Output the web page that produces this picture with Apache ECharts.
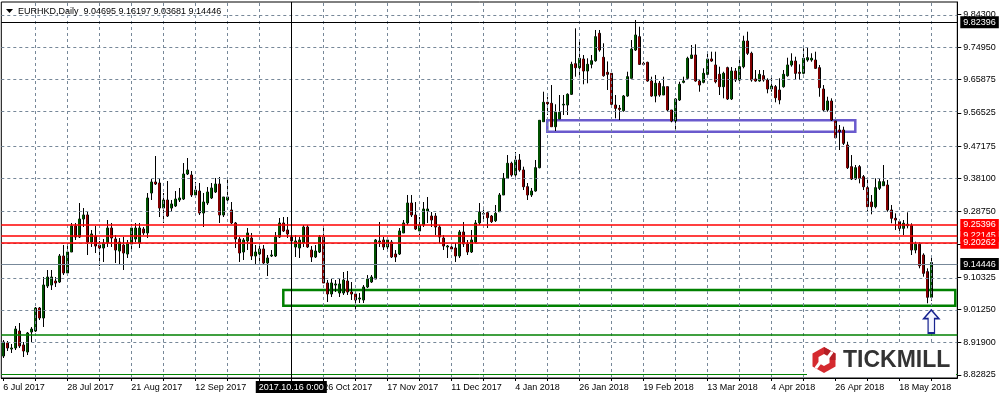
<!DOCTYPE html>
<html><head><meta charset="utf-8">
<script src="https://cdn.jsdelivr.net/npm/echarts@6/dist/echarts.min.js"></script>
<style>html,body{margin:0;padding:0;background:#fff}#c{width:1000px;height:400px}</style>
</head><body><div id="c"></div>
<script>
// ---- data (EURHKD daily) ----
const openP = [8.8816,8.9182,8.9013,8.9041,8.9519,8.9126,8.8929,8.9491,8.9519,9.0166,
8.9885,9.0784,9.0812,9.0925,9.0897,9.1628,9.1150,9.1740,9.2471,9.2162,
9.2668,9.2781,9.2021,9.2190,9.1937,9.1853,9.1993,9.2415,9.2106,9.1768,
9.1937,9.1684,9.1965,9.2106,9.1993,9.2387,9.2275,9.3399,9.3708,9.3680,
9.2977,9.3202,9.2977,9.3034,9.3202,9.3230,9.3933,9.3905,9.3343,9.3455,
9.2837,9.3118,9.3259,9.3427,9.3652,9.2781,9.3202,9.2921,9.2556,9.2106,
9.1740,9.2050,9.2134,9.1628,9.1684,9.1825,9.1431,9.1628,9.1628,9.2162,
9.2556,9.2359,9.2162,9.1881,9.1853,9.1993,9.2443,9.1796,9.1600,9.1740,
9.2162,9.0869,9.0560,9.0812,9.0588,9.0588,9.0925,9.0616,9.0560,9.0419,
9.0391,9.0756,9.0897,9.0981,9.2021,9.2078,9.1881,9.2021,9.1684,9.1684,
9.2275,9.2556,9.3118,9.2781,9.2331,9.2499,9.2893,9.2752,9.2752,9.2443,
9.2134,9.1881,9.1881,9.1853,9.1628,9.2303,9.1965,9.1740,9.2021,9.2556,
9.2809,9.2845,9.2752,9.2620,9.2873,9.3343,9.3812,9.4234,9.3905,9.4327,
9.4046,9.3576,9.3343,9.3455,9.4110,9.5404,9.5949,9.5921,9.5263,9.5479,
9.5873,9.5873,9.6174,9.7034,9.6922,9.7166,9.6829,9.7017,9.7118,9.7889,
9.7214,9.6792,9.6764,9.5873,9.5780,9.5713,9.6126,9.6624,9.7419,9.7793,
9.7045,9.7073,9.6548,9.6126,9.6483,9.6154,9.6388,9.5732,9.5423,9.6014,
9.6511,9.6624,9.7186,9.7279,9.6548,9.6511,9.6736,9.7166,9.6998,9.6736,
9.6388,9.6922,9.6042,9.6829,9.6576,9.6950,9.7672,9.7327,9.6604,9.6548,
9.6697,9.6576,9.6323,9.6388,9.6295,9.6388,9.6697,9.6998,9.7110,9.6792,
9.6764,9.7138,9.7138,9.7138,9.6922,9.6323,9.5732,9.5986,9.5423,9.5170,
9.5170,9.4748,9.4139,9.3792,9.4139,9.3857,9.3548,9.3146,9.3014,9.3531,
9.3604,9.3624,9.2921,9.2688,9.2592,9.2406,9.2480,9.2480,9.1796,9.1956,
9.1656,9.1187,9.04695];
const highP = [8.9266,8.9238,8.9154,8.9660,8.9744,8.9210,8.9491,8.9632,9.0194,9.0194,
9.1037,9.1234,9.1234,9.1037,9.1684,9.1937,9.1965,9.2556,9.2556,9.3118,
9.2977,9.2865,9.2359,9.2471,9.2050,9.2106,9.2640,9.2556,9.2218,9.2134,
9.2162,9.2078,9.2527,9.2556,9.2556,9.2443,9.3399,9.3792,9.4439,9.3792,
9.3399,9.3736,9.3202,9.3455,9.3540,9.4242,9.4383,9.4017,9.3708,9.3680,
9.3399,9.3568,9.3680,9.3821,9.3849,9.3287,9.3849,9.3146,9.2584,9.2162,
9.2134,9.2415,9.2275,9.1937,9.1937,9.1937,9.1656,9.1796,9.2303,9.2696,
9.2724,9.2724,9.2275,9.2218,9.2162,9.2499,9.2499,9.1909,9.1937,9.2218,
9.2443,9.0953,9.0981,9.0953,9.0981,9.1178,9.1206,9.0897,9.0616,9.0588,
9.0812,9.1093,9.1093,9.2106,9.2584,9.2162,9.2134,9.2078,9.1796,9.2415,
9.2640,9.3343,9.3343,9.3146,9.2724,9.3146,9.3287,9.2865,9.2837,9.2499,
9.2218,9.1937,9.1909,9.1993,9.2359,9.2584,9.2078,9.2359,9.2640,9.3118,
9.3014,9.2873,9.2781,9.3062,9.3399,9.3961,9.4467,9.4279,9.4552,9.4495,
9.4139,9.3680,9.3540,9.4327,9.5443,9.6247,9.6106,9.6435,9.5893,9.6154,
9.6154,9.6202,9.7090,9.8029,9.7700,9.7279,9.7186,9.7279,9.7982,9.7982,
9.7608,9.7098,9.6764,9.6154,9.5873,9.6154,9.6809,9.7700,9.8263,9.8074,
9.7090,9.7090,9.6669,9.6717,9.6548,9.6669,9.6388,9.5732,9.6061,9.6528,
9.6669,9.7231,9.7560,9.7580,9.6576,9.6905,9.7372,9.7372,9.7372,9.6950,
9.6809,9.6950,9.6941,9.6913,9.7231,9.7821,9.7934,9.7372,9.6857,9.6857,
9.6857,9.6624,9.6717,9.6435,9.6624,9.6857,9.7203,9.7327,9.7231,9.7017,
9.7467,9.7484,9.7327,9.7372,9.6998,9.6435,9.6106,9.6061,9.5423,9.5311,
9.5263,9.4841,9.4467,9.4186,9.4186,9.3905,9.3812,9.3343,9.3812,9.3812,
9.4186,9.3764,9.3062,9.2828,9.2640,9.2640,9.2856,9.2547,9.2030,9.2013,
9.1704,9.1282,9.16197];
const lowP = [8.8760,8.8957,8.8901,8.8985,8.9041,8.8788,8.8844,8.9210,8.9491,8.9829,
8.9632,9.0728,9.0672,9.0756,9.0869,9.1093,9.1093,9.1740,9.2078,9.2134,
9.2443,9.1656,9.1881,9.1712,9.1347,9.1459,9.1881,9.1881,9.1431,9.1375,
9.1234,9.1572,9.1796,9.2021,9.1853,9.2218,9.2134,9.3202,9.3624,9.2724,
9.2556,9.2724,9.2865,9.3006,9.3146,9.3202,9.3905,9.3287,9.3315,9.2781,
9.2443,9.3062,9.3230,9.3399,9.2556,9.2724,9.3146,9.2527,9.1853,9.1459,
9.1515,9.1796,9.1515,9.1375,9.1375,9.1375,9.1065,9.1600,9.1600,9.2134,
9.2303,9.2134,9.1881,9.1600,9.1572,9.1881,9.1853,9.1459,9.1572,9.1712,
9.0869,9.0335,9.0475,9.0616,9.0475,9.0532,9.0532,9.0391,9.0110,9.0307,
9.0307,9.0728,9.0869,9.0981,9.1881,9.1796,9.1740,9.1572,9.1459,9.1656,
9.2275,9.2499,9.2724,9.2359,9.2218,9.2443,9.2556,9.2443,9.2218,9.1993,
9.1796,9.1572,9.1740,9.1459,9.1572,9.1881,9.1656,9.1712,9.1993,9.2499,
9.2668,9.2415,9.2556,9.2584,9.2873,9.3343,9.3812,9.3857,9.3857,9.3998,
9.3483,9.3202,9.3287,9.3436,9.4093,9.5404,9.5592,9.5263,9.5142,9.5479,
9.5592,9.5592,9.6154,9.6669,9.6624,9.6455,9.6483,9.6905,9.7090,9.7372,
9.6669,9.6295,9.5873,9.5499,9.5451,9.5685,9.6106,9.6624,9.7391,9.6998,
9.6998,9.6528,9.6106,9.5949,9.6106,9.6154,9.5685,9.5387,9.5142,9.5986,
9.6483,9.6576,9.7166,9.6528,9.6247,9.6483,9.6717,9.7090,9.6483,9.6154,
9.6061,9.6014,9.6014,9.6520,9.6528,9.6905,9.7279,9.6528,9.6528,9.6528,
9.6528,9.6202,9.6247,9.5949,9.5893,9.6359,9.6669,9.6950,9.6576,9.6576,
9.6736,9.7090,9.7090,9.6885,9.6106,9.5685,9.5685,9.5423,9.4937,9.4608,
9.4748,9.4074,9.3764,9.3764,9.3671,9.3483,9.2893,9.2800,9.2969,9.3483,
9.3604,9.2873,9.2547,9.2359,9.2311,9.2218,9.2406,9.1656,9.1704,9.1282,
9.1046,9.0298,9.03681];
const closeP = [8.9210,8.9041,8.9041,8.9575,8.9097,8.8957,8.9463,8.9575,9.0166,8.9885,
9.0812,9.1037,9.1037,9.0869,9.1628,9.1150,9.1740,9.2471,9.2162,9.2668,
9.2781,9.2021,9.2247,9.1909,9.1853,9.1993,9.2415,9.2134,9.1796,9.2021,
9.1712,9.1993,9.2415,9.2415,9.2415,9.2275,9.3259,9.3708,9.3652,9.2977,
9.3202,9.2752,9.3090,9.3230,9.3259,9.3933,9.4046,9.3343,9.3483,9.2837,
9.3146,9.3427,9.3540,9.3652,9.2781,9.3287,9.3287,9.2556,9.2106,9.1712,
9.2078,9.2275,9.1628,9.1740,9.1825,9.1431,9.1572,9.1656,9.2162,9.2556,
9.2331,9.2247,9.2050,9.2050,9.2078,9.2443,9.1881,9.1600,9.1768,9.2162,
9.0869,9.0560,9.0869,9.0841,9.0841,9.0953,9.0616,9.0560,9.0391,9.0447,
9.0756,9.0981,9.1037,9.2078,9.2050,9.1881,9.2078,9.1600,9.1600,9.2331,
9.2556,9.3118,9.2781,9.2387,9.2499,9.2949,9.2949,9.2640,9.2443,9.2162,
9.1909,9.1909,9.1825,9.1628,9.2303,9.1965,9.1740,9.2078,9.2556,9.2865,
9.2817,9.2705,9.2592,9.2828,9.3343,9.3812,9.4234,9.3905,9.4327,9.4046,
9.3576,9.3343,9.3455,9.4110,9.5443,9.5949,9.5910,9.5263,9.5668,9.5668,
9.5893,9.6174,9.7017,9.6922,9.7186,9.6829,9.7017,9.7118,9.7793,9.7419,
9.6697,9.6736,9.5893,9.5780,9.5752,9.6126,9.6669,9.7447,9.7841,9.7017,
9.7017,9.6548,9.6126,9.6483,9.6154,9.6388,9.5732,9.5423,9.6042,9.6455,
9.6548,9.7186,9.7279,9.6548,9.6435,9.6764,9.7166,9.7110,9.6528,9.6388,
9.6764,9.6042,9.6829,9.6576,9.6950,9.7672,9.7327,9.6576,9.6548,9.6736,
9.6576,9.6323,9.6407,9.6078,9.6014,9.6736,9.6998,9.7110,9.6764,9.6764,
9.7186,9.7203,9.7186,9.6905,9.6359,9.5732,9.5986,9.5451,9.4954,9.5123,
9.4796,9.4110,9.3792,9.4110,9.3812,9.3576,9.3014,9.3014,9.3548,9.3717,
9.3717,9.2921,9.2688,9.2640,9.2406,9.2547,9.2519,9.1796,9.1956,9.1355,
9.1142,9.04695,9.14446];

const startDate = '2017-07-06';
const holidays = ['2017-12-25', '2018-01-01'];
const barCount = 239;              // visible bar slots (incl. empty ones at the right)
const yTicks = [9.843, 9.7495, 9.65875, 9.56525, 9.47175, 9.381, 9.2875, 9.19675, 9.10325, 9.0125, 8.919, 8.82825];
const redLevels = [9.25396, 9.22145, 9.20262];
const currentPrice = 9.14446;
const crossPrice = 9.82396;
const crossIndex = 72;
const greenBox = {from: 70, top: 9.0672, bottom: 9.0231};
const blueBox = {from: 136, to: 213, top: 9.5443, bottom: 9.5123};
const greenLines = [8.9407, 8.8254];
const arrowIndex = 232, arrowPrice = 8.9787;
const MON = ['Jan','Feb','Mar','Apr','May','Jun','Jul','Aug','Sep','Oct','Nov','Dec'];

// ---- categories (trading days) ----
const cats = [];
let d = new Date(startDate + 'T00:00:00Z');
while (cats.length < barCount) {
  const iso = d.toISOString().slice(0, 10);
  const dow = d.getUTCDay();
  if (dow !== 0 && dow !== 6 && !holidays.includes(iso)) cats.push(iso);
  d = new Date(d.getTime() + 86400000);
}
const fmtDate = v => (+v.slice(8)) + ' ' + MON[+v.slice(5, 7) - 1] + ' ' + v.slice(0, 4);
const candles = openP.map((o, i) => [o, closeP[i], lowP[i], highP[i]]);
const last = candles.length - 1;
const titleText = 'EURHKD,Daily  ' + [openP[last], highP[last], lowP[last], closeP[last]].map(v => v.toFixed(5)).join(' ');

const FONT = 'Liberation Sans';
const vGrid = [];
for (let i = 8; i <= last; i += 8) vGrid.push({xAxis: cats[i]});

const boxLabel = (txt, bg) => ({show: true, position: 'end', distance: 3, formatter: txt,
  backgroundColor: bg, color: '#fff', padding: [2, 3, 1, 3], fontSize: 9, fontFamily: FONT});

const chart = echarts.init(document.getElementById('c'), null, {renderer: 'canvas'});
chart.setOption({
  animation: false,
  backgroundColor: '#ffffff',
  grid: {left: 1.3, width: 956, top: 2, height: 376, show: true, borderColor: '#000', borderWidth: 1, backgroundColor: 'transparent'},
  xAxis: {
    type: 'category', data: cats, boundaryGap: true,
    axisLine: {show: true, lineStyle: {color: '#000', width: 1}},
    axisTick: {show: true, interval: 7, alignWithLabel: true, length: 3, lineStyle: {color: '#000'}},
    axisLabel: {interval: 15, align: 'left', fontSize: 9, fontFamily: FONT, color: '#000', margin: 5, formatter: fmtDate},
    splitLine: {show: false}
  },
  yAxis: {
    type: 'value', position: 'right', min: 8.8198, max: 9.8769, scale: true,
    axisLine: {show: true, lineStyle: {color: '#000', width: 1}},
    axisTick: {show: true, customValues: yTicks, length: 4, lineStyle: {color: '#000'}},
    axisLabel: {customValues: yTicks, formatter: v => v.toFixed(5), fontSize: 9, fontFamily: FONT, color: '#000', margin: 6},
    splitLine: {show: false}
  },
  series: [
    {
      type: 'line', data: [], z: 1, silent: true,
      markLine: {silent: true, symbol: 'none', animation: false, label: {show: false},
        lineStyle: {color: '#778899', type: [3, 3], width: 1},
        data: [...yTicks.map(v => ({yAxis: v})), ...vGrid]}
    },
    {
      // outlines + wicks
      type: 'candlestick', name: 'EURHKD', data: candles, z: 2, barWidth: 3, silent: true,
      itemStyle: {color: '#000', color0: '#000', borderColor: '#000', borderColor0: '#000', borderWidth: 1}
    },
    {
      // coloured body interiors
      type: 'candlestick', name: 'EURHKD body', data: candles, z: 2.5, barWidth: 1.6, silent: true,
      itemStyle: {color: '#00a000', color0: '#ff0000', borderColor: '#00a000', borderColor0: '#ff0000', borderWidth: 0}
    },
    {
      type: 'line', data: [], z: 3, silent: true,
      markLine: {silent: true, symbol: 'none', animation: false,
        data: [
          ...redLevels.map(v => ({yAxis: v, lineStyle: {color: '#ff0000', width: 1.5, type: 'solid'}, label: boxLabel(v.toFixed(5), '#ff0000')})),
          {yAxis: currentPrice, lineStyle: {color: '#778899', width: 1, type: 'solid'}, label: boxLabel(currentPrice.toFixed(5), '#000')},
          {yAxis: crossPrice, lineStyle: {color: '#000', width: 1, type: 'solid'}, label: boxLabel(crossPrice.toFixed(5), '#000')},
          ...greenLines.map((v, i) => ({yAxis: v, lineStyle: {color: '#008000', width: i === 0 ? 1.5 : 1, type: 'solid'}, label: {show: false}})),
          {xAxis: cats[crossIndex], lineStyle: {color: '#000', width: 1, type: 'solid'},
            label: {show: true, position: 'start', distance: 3, formatter: cats[crossIndex].replace(/-/g, '.') + ' 0:00',
              backgroundColor: '#000', color: '#fff', padding: [2, 3, 1, 3], fontSize: 9, fontFamily: FONT}}
        ]},
      markArea: {silent: true, animation: false,
        data: [
          [{xAxis: cats[greenBox.from], yAxis: greenBox.top, itemStyle: {color: 'rgba(0,0,0,0)', borderColor: '#008000', borderWidth: 2.5}},
           {xAxis: cats[barCount - 1], yAxis: greenBox.bottom}],
          [{xAxis: cats[blueBox.from], yAxis: blueBox.top, itemStyle: {color: 'rgba(0,0,0,0)', borderColor: '#6a5acd', borderWidth: 2.5}},
           {xAxis: cats[blueBox.to], yAxis: blueBox.bottom}]
        ]},
      markPoint: {silent: true, animation: false,
        data: [{coord: [cats[arrowIndex], arrowPrice],
          symbol: 'path://M7,0 L14,9 L10,9 L10,24 L4,24 L4,9 L0,9 Z', symbolSize: [15, 23], symbolKeepAspect: false,
          itemStyle: {color: '#f4f6ff', borderColor: '#17238f', borderWidth: 1.5}, label: {show: false}}]}
    }
  ],
  graphic: [
    {type: 'polygon', z: 100, shape: {points: [[6, 9], [13, 9], [9.5, 13]]}, style: {fill: '#000'}},
    {type: 'text', z: 100, x: 18, y: 11.5, style: {text: titleText, fontSize: 9, fontFamily: FONT, fill: '#000', verticalAlign: 'middle'}},
    {type: 'rect', z: 100, shape: {x: 807, y: 343, width: 149, height: 34}, style: {fill: '#fff'}},
    {type: 'polygon', z: 101, shape: {points: [[824, 347], [835.5, 353.5], [835.5, 366.5], [824, 373], [812.5, 366.5], [812.5, 353.5]]}, style: {fill: '#d52a2f'}},
    {type: 'polygon', z: 101, shape: {points: [[824, 347], [835.5, 353.5], [835.5, 360], [824, 360]]}, style: {fill: '#b51f25'}},
    {type: 'polygon', z: 102, shape: {points: [[824, 354], [829.5, 357], [829.5, 363], [824, 366], [818.5, 363], [818.5, 357]]}, style: {fill: '#fff'}},
    {type: 'polygon', z: 102, shape: {points: [[827, 356], [831, 351], [833.5, 352.5], [829.5, 358]]}, style: {fill: '#fff'}},
    {type: 'polygon', z: 102, shape: {points: [[821, 364], [817, 369], [814.5, 367.5], [818.5, 362]]}, style: {fill: '#fff'}},
    {type: 'text', z: 102, x: 843, y: 360.5, style: {text: 'TICKMILL', fontSize: 23, fontWeight: 'bold', fontFamily: FONT, fill: '#333333', verticalAlign: 'middle'}}
  ]
});
</script></body></html>
